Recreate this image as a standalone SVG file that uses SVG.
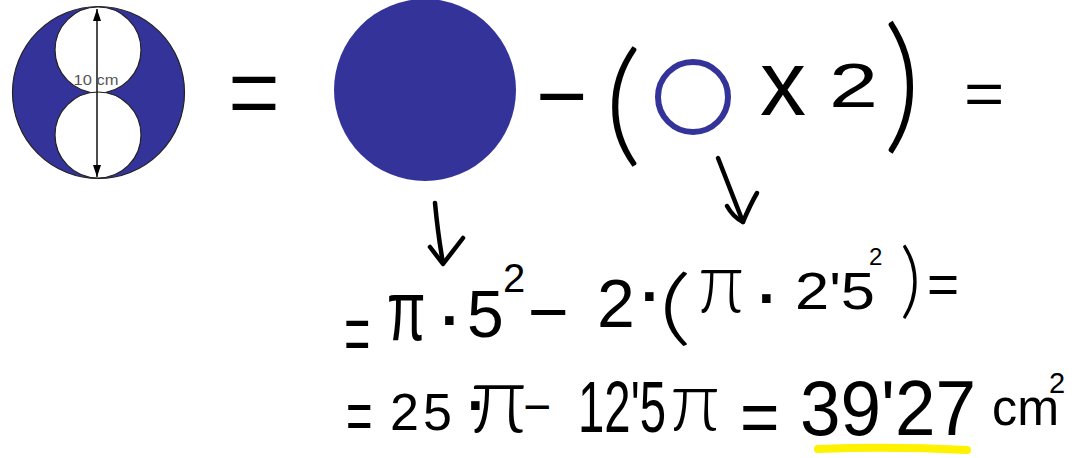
<svg xmlns="http://www.w3.org/2000/svg" width="1079" height="458" viewBox="0 0 1079 458">
<style>
.h{font-family:"Liberation Sans",Arial,sans-serif;fill:#000}
.p{font-family:Lato,"Liberation Sans",sans-serif;font-weight:300;fill:#000}
.d{font-family:"Liberation Sans",Arial,sans-serif;font-weight:bold;fill:#000;font-size:60px}
.arw{fill:none;stroke:#000;stroke-width:4.5;stroke-linecap:round;stroke-linejoin:round}
.blue{fill:#333399}
</style>
<defs>
<marker id="ah" viewBox="0 0 12 8" refX="12" refY="4" markerWidth="12" markerHeight="8" markerUnits="userSpaceOnUse" orient="auto-start-reverse">
<path d="M0,0 L12,4 L0,8 z" fill="#000"/>
</marker>
</defs>
<rect width="1079" height="458" fill="#fff"/>
<g id="figure">
<circle cx="98.5" cy="92.5" r="86" class="blue" stroke="#222" stroke-width="1.2"/>
<circle cx="98" cy="50" r="43" fill="#fff" stroke="#222" stroke-width="1.2"/>
<circle cx="98" cy="135" r="43" fill="#fff" stroke="#222" stroke-width="1.2"/>
<line x1="97" y1="9" x2="97" y2="177" stroke="#111" stroke-width="1.5" marker-start="url(#ah)" marker-end="url(#ah)"/>
<text x="96" y="85" text-anchor="middle" font-family="Liberation Sans, Arial, sans-serif" font-size="15" fill="#555" textLength="45" lengthAdjust="spacingAndGlyphs">10 cm</text>
</g>
<g id="row1">
<text class="p" font-size="126" transform="translate(224 151) scale(0.82 1.36)">=</text>
<circle id="big-circle" cx="425" cy="90" r="91" class="blue"/>
<text class="h" font-size="88" x="536" y="126">−</text>
<text class="p" font-size="134" transform="translate(604 149) scale(1.1 1)">(</text>
<circle id="ring" cx="693" cy="97" r="35" fill="none" stroke="#333399" stroke-width="6"/>
<text class="h" font-size="92" x="760" y="115">x</text>
<text class="h" font-size="63" transform="translate(829 107) scale(1.4 1)">2</text>
<text class="p" font-size="148" x="883" y="134">)</text>
<text class="h" font-size="60" transform="translate(964 114) scale(1.15 1)">=</text>
</g>
<g id="connectors">
<path class="arw" d="M435,203 Q438,235 443,263"/>
<path class="arw" d="M430,247 L443,264 L463,238"/>
<path class="arw" d="M718,158 L743,222"/>
<path class="arw" d="M727,206 Q733,217 743,222 Q750,205 757,193"/>
</g>
<g id="line1">
<text class="p" font-size="105" transform="translate(342 382) scale(0.5 1.36)">=</text>
<text class="h" font-size="86" transform="translate(387 340) scale(0.65 1)">π</text>
<text class="d" x="441" y="340">·</text>
<text class="h" font-size="66" x="467" y="337">5</text>
<text class="h" font-size="40" x="503" y="292">2</text>
<text class="h" font-size="70" x="528" y="336">−</text>
<text class="h" font-size="68" x="597" y="327">2</text>
<text class="d" x="641" y="316">·</text>
<text class="p" font-size="82" transform="translate(658 335) scale(1.6 1)">(</text>
<text class="p" font-size="86" transform="translate(698 312) scale(0.9 1)">π</text>
<text class="d" x="758" y="318">·</text>
<text class="h" font-size="52" x="795" y="309" textLength="80" lengthAdjust="spacingAndGlyphs">2'5</text>
<text class="h" font-size="24" x="869" y="265">2</text>
<text class="p" font-size="82" x="900" y="308">)</text>
<text class="h" font-size="55" x="927" y="302.6">=</text>
</g>
<g id="line2">
<path d="M818,449 Q890,446 967,450" fill="none" stroke="#fff200" stroke-width="8" stroke-linecap="round"/>
<text class="h" font-size="70" transform="translate(346 439.5) scale(0.65 1)">=</text>
<text class="h" font-size="52" x="390" y="430" letter-spacing="4">25</text>
<text class="d" x="467" y="425">·</text>
<text class="p" font-size="96" x="470" y="432">π</text>
<text class="h" font-size="48" x="523" y="423">−</text>
<text class="h" font-size="72" x="578" y="432" textLength="88" lengthAdjust="spacingAndGlyphs">12'5</text>
<text class="p" font-size="84" x="670" y="430">π</text>
<text class="h" font-size="75" transform="translate(740 442) scale(0.9 1)">=</text>
<text class="h" font-size="77" x="800" y="435" textLength="176" lengthAdjust="spacingAndGlyphs">39'27</text>
<text class="h" font-size="52" x="992" y="425" textLength="67" lengthAdjust="spacingAndGlyphs">cm</text>
<text class="h" font-size="29" x="1049" y="393">2</text>
</g>
</svg>
